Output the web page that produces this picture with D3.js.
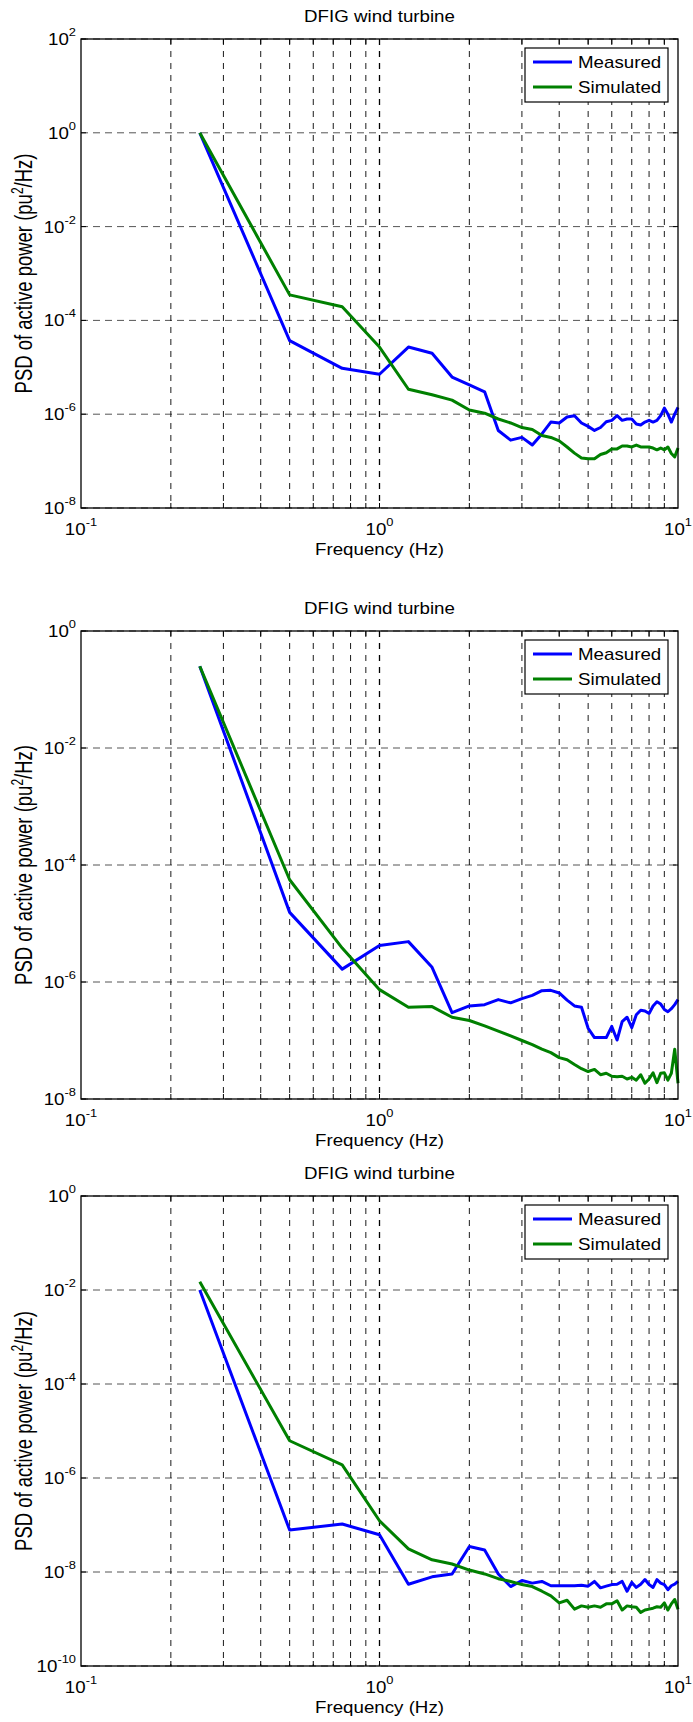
<!DOCTYPE html>
<html>
<head>
<meta charset="utf-8">
<script src="https://cdn.jsdelivr.net/npm/d3@7"></script>
<style>
  body { margin: 0; background: #fff; }
  text { font-family: "Liberation Sans", Arial, sans-serif; fill: #000; }
</style>
</head>
<body>
<script>

// frequency bins (Hz)
var freq = [0.25, 0.5, 0.75, 1, 1.25, 1.5, 1.75, 2, 2.25, 2.5,
    2.75, 3, 3.25, 3.5, 3.75, 4, 4.25, 4.5, 4.75, 5,
    5.25, 5.5, 5.75, 6, 6.25, 6.5, 6.75, 7, 7.25, 7.5,
    7.75, 8, 8.25, 8.5, 8.75, 9, 9.25, 9.5, 9.75, 10];

// panel 1
var measured1 = [1, 3.7e-5, 9.5e-6, 7.1e-6, 2.7e-5, 2.0e-5, 6.2e-6, 4.2e-6, 3.0e-6, 4.5e-7,
    2.8e-7, 3.2e-7, 2.2e-7, 3.8e-7, 6.8e-7, 6.5e-7, 8.7e-7, 9.3e-7, 6.5e-7, 5.5e-7,
    4.5e-7, 5.2e-7, 6.9e-7, 7.4e-7, 9.3e-7, 7.4e-7, 7.9e-7, 7.9e-7, 6.2e-7, 5.9e-7,
    6.8e-7, 7.4e-7, 6.8e-7, 7.4e-7, 9.3e-7, 1.35e-6, 1.0e-6, 6.8e-7, 1.0e-6, 1.4e-6];
var simulated1 = [1, 3.5e-4, 1.95e-4, 2.7e-5, 3.4e-6, 2.6e-6, 2.0e-6, 1.23e-6, 1.05e-6, 7.9e-7,
    6.5e-7, 5.2e-7, 4.7e-7, 3.5e-7, 3.2e-7, 2.7e-7, 2.0e-7, 1.48e-7, 1.17e-7, 1.12e-7,
    1.12e-7, 1.38e-7, 1.51e-7, 1.82e-7, 1.82e-7, 2.1e-7, 2.1e-7, 2.0e-7, 2.2e-7, 2.0e-7,
    2.0e-7, 2.0e-7, 1.9e-7, 1.74e-7, 1.9e-7, 1.74e-7, 2.0e-7, 1.45e-7, 1.23e-7, 1.9e-7];

// panel 2
var measured2 = [0.25, 1.55e-5, 1.66e-6, 4.2e-6, 4.9e-6, 1.78e-6, 3.0e-7, 3.9e-7, 4.1e-7, 5.0e-7,
    4.4e-7, 5.2e-7, 5.9e-7, 7.1e-7, 7.2e-7, 6.5e-7, 4.9e-7, 3.9e-7, 3.7e-7, 1.62e-7,
    1.12e-7, 1.12e-7, 1.12e-7, 1.74e-7, 1.02e-7, 2.1e-7, 2.5e-7, 1.66e-7, 2.75e-7, 3.3e-7,
    3.2e-7, 2.9e-7, 3.9e-7, 4.6e-7, 4.2e-7, 3.4e-7, 3.1e-7, 3.5e-7, 4.1e-7, 5.0e-7];
var simulated2 = [0.25, 5.6e-5, 3.8e-6, 7.4e-7, 3.7e-7, 3.8e-7, 2.5e-7, 2.2e-7, 1.78e-7, 1.45e-7,
    1.2e-7, 1.0e-7, 8.5e-8, 7.1e-8, 6.2e-8, 5.1e-8, 4.7e-8, 3.9e-8, 3.3e-8, 2.95e-8,
    3.2e-8, 2.6e-8, 2.75e-8, 2.45e-8, 2.4e-8, 2.45e-8, 2.2e-8, 2.35e-8, 2.1e-8, 2.6e-8,
    1.86e-8, 2.2e-8, 2.8e-8, 1.9e-8, 2.75e-8, 2.8e-8, 2.1e-8, 2.75e-8, 7.1e-8, 1.86e-8];

// panel 3
var measured3 = [1e-2, 7.8e-8, 1.05e-7, 6.2e-8, 5.5e-9, 7.9e-9, 9.1e-9, 3.5e-8, 2.95e-8, 9.1e-9,
    4.9e-9, 6.6e-9, 5.8e-9, 6.3e-9, 5.1e-9, 5.1e-9, 5.1e-9, 5.1e-9, 5.2e-9, 5.0e-9,
    6.3e-9, 4.6e-9, 5.0e-9, 5.4e-9, 5.5e-9, 6.3e-9, 3.9e-9, 6.0e-9, 4.7e-9, 5.5e-9,
    6.9e-9, 5.4e-9, 4.7e-9, 6.9e-9, 5.8e-9, 5.4e-9, 4.2e-9, 5.1e-9, 5.5e-9, 6.3e-9];
var simulated3 = [1.5e-2, 6.2e-6, 1.9e-6, 1.23e-7, 3.1e-8, 1.82e-8, 1.48e-8, 1.1e-8, 9.1e-9, 7.2e-9,
    6.3e-9, 5.4e-9, 4.9e-9, 3.9e-9, 3.1e-9, 2.2e-9, 2.5e-9, 1.62e-9, 1.9e-9, 1.78e-9,
    1.9e-9, 1.78e-9, 2.1e-9, 2.1e-9, 2.45e-9, 1.55e-9, 1.9e-9, 1.82e-9, 1.78e-9, 1.38e-9,
    1.55e-9, 1.62e-9, 1.7e-9, 1.82e-9, 1.78e-9, 2.2e-9, 1.55e-9, 2.1e-9, 2.6e-9, 1.62e-9];

// axes ticks
var xTicks = [0.1, 1, 10];
var xMinor = [0.2, 0.3, 0.4, 0.5, 0.6, 0.7, 0.8, 0.9, 2, 3, 4, 5, 6, 7, 8, 9];
var yTicks1 = [1e2, 1e0, 1e-2, 1e-4, 1e-6, 1e-8];
var yTicks2 = [1e0, 1e-2, 1e-4, 1e-6, 1e-8];
var yTicks3 = [1e0, 1e-2, 1e-4, 1e-6, 1e-8, 1e-10];

var seriesNames = ['Measured', 'Simulated'];
var seriesColors = ['#0000ff', '#008000'];
var titleText = 'DFIG wind turbine';
var xLabelText = 'Frequency (Hz)';


var W = 693, H = 1722;
var SX = 1.17; // the figure is a bit stretched sideways

var svg = d3.select('body').append('svg')
    .attr('width', W)
    .attr('height', H);

var panels = [
    {top: 39, bottom: 508, yTicks: yTicks1, series: [measured1, simulated1]},
    {top: 631, bottom: 1099, yTicks: yTicks2, series: [measured2, simulated2]},
    {top: 1196, bottom: 1666, yTicks: yTicks3, series: [measured3, simulated3]}
];

var left = 81, right = 678;

function expOf(v) {
    return Math.round(Math.log10(v));
}

// "10" with a raised exponent
function powText(sel, v) {
    sel.append('tspan').text('10');
    sel.append('tspan')
        .attr('dy', -9)
        .style('font-size', '11px')
        .text(expOf(v));
}

function drawPanel(p) {

    var g = svg.append('g');

    var x = d3.scaleLog()
        .domain([0.1, 10])
        .range([left, right]);

    var y = d3.scaleLog()
        .domain([p.yTicks[p.yTicks.length - 1], p.yTicks[0]])
        .range([p.bottom, p.top]);

    // grid
    g.selectAll('.hgrid')
        .data(p.yTicks)
        .enter()
        .append('line')
        .attr('x1', left).attr('x2', right)
        .attr('y1', function(d) { return y(d); })
        .attr('y2', function(d) { return y(d); })
        .attr('stroke', '#555')
        .attr('stroke-width', 1)
        .attr('stroke-dasharray', '7,5');

    g.selectAll('.vgrid')
        .data(xMinor.concat([1]))
        .enter()
        .append('line')
        .attr('x1', function(d) { return x(d); })
        .attr('x2', function(d) { return x(d); })
        .attr('y1', p.top).attr('y2', p.bottom)
        .attr('stroke', '#000')
        .attr('stroke-width', function(d) { return d == 1 ? 1.3 : 0.9; })
        .attr('stroke-dasharray', '6,6');

    // minor ticks on top and bottom
    g.selectAll('.xtick')
        .data(xMinor.concat([1]))
        .enter()
        .append('path')
        .attr('d', function(d) {
            var xx = x(d);
            return 'M' + xx + ',' + p.bottom + 'v-5M' + xx + ',' + p.top + 'v5';
        })
        .attr('stroke', '#000');

    g.selectAll('.ytick')
        .data(p.yTicks)
        .enter()
        .append('path')
        .attr('d', function(d) {
            var yy = y(d);
            return 'M' + left + ',' + yy + 'h5M' + right + ',' + yy + 'h-5';
        })
        .attr('stroke', '#000');

    // curves
    var line = d3.line()
        .x(function(d, i) { return x(freq[i]); })
        .y(function(d) { return y(d); });

    g.selectAll('.curve')
        .data(p.series)
        .enter()
        .append('path')
        .attr('d', line)
        .attr('fill', 'none')
        .attr('stroke', function(d, i) { return seriesColors[i]; })
        .attr('stroke-width', 3)
        .attr('stroke-linejoin', 'round');

    // box
    g.append('rect')
        .attr('x', left).attr('y', p.top)
        .attr('width', right - left)
        .attr('height', p.bottom - p.top)
        .attr('fill', 'none')
        .attr('stroke', '#000')
        .attr('stroke-width', 1.3);

    // tick labels
    g.selectAll('.xlab')
        .data(xTicks)
        .enter()
        .append('text')
        .attr('transform', function(d) {
            return 'translate(' + x(d) + ',' + (p.bottom + 27) + ') scale(' + SX + ',1)';
        })
        .attr('text-anchor', 'middle')
        .style('font-size', '16px')
        .each(function(d) { powText(d3.select(this), d); });

    g.selectAll('.ylab')
        .data(p.yTicks)
        .enter()
        .append('text')
        .attr('transform', function(d) {
            return 'translate(76,' + (y(d) + 6) + ') scale(' + SX + ',1)';
        })
        .attr('text-anchor', 'end')
        .style('font-size', '16px')
        .each(function(d) { powText(d3.select(this), d); });

    // title and axis labels
    var cx = (left + right) / 2;

    g.append('text')
        .attr('transform', 'translate(' + cx + ',' + (p.top - 17) + ') scale(' + SX + ',1)')
        .attr('text-anchor', 'middle')
        .style('font-size', '16px')
        .text(titleText);

    g.append('text')
        .attr('transform', 'translate(' + cx + ',' + (p.bottom + 47) + ') scale(' + SX + ',1)')
        .attr('text-anchor', 'middle')
        .style('font-size', '16px')
        .text(xLabelText);

    var yl = g.append('text')
        .attr('transform', 'translate(32,' + ((p.top + p.bottom) / 2) + ') scale(1.3,1) rotate(-90)')
        .attr('text-anchor', 'middle')
        .style('font-size', '18.5px');
    yl.append('tspan').text('PSD of active power (pu');
    yl.append('tspan').attr('dy', -7).style('font-size', '12px').text('2');
    yl.append('tspan').attr('dy', 7).text('/Hz)');

    // legend
    var lg = g.append('g')
        .attr('transform', 'translate(525,' + (p.top + 9) + ')');

    lg.append('rect')
        .attr('width', 143)
        .attr('height', 54)
        .attr('fill', '#fff')
        .attr('stroke', '#000')
        .attr('stroke-width', 1.2);

    var items = lg.selectAll('.item')
        .data(seriesNames)
        .enter()
        .append('g')
        .attr('transform', function(d, i) { return 'translate(0,' + (14 + i * 25) + ')'; });

    items.append('line')
        .attr('x1', 8).attr('x2', 47)
        .attr('stroke', function(d, i) { return seriesColors[i]; })
        .attr('stroke-width', 3);

    items.append('text')
        .attr('transform', 'translate(53,6) scale(' + SX + ',1)')
        .style('font-size', '16px')
        .text(function(d) { return d; });
}

panels.forEach(drawPanel);

</script>
</body>
</html>
